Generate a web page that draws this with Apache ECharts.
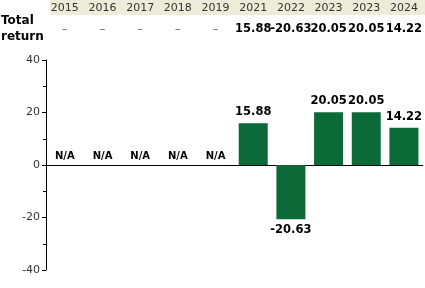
<!DOCTYPE html>
<html><head><meta charset="utf-8">
<script src="https://cdn.jsdelivr.net/npm/echarts@6/dist/echarts.min.js"></script>
<style>html,body{margin:0;padding:0;background:#fff}#c{width:425px;height:288px}</style>
</head><body><div id="c"></div>
<script>
var years = ['2015','2016','2017','2018','2019','2021','2022','2023','2023','2024'];
var totalReturn = [null,null,null,null,null,15.88,-20.63,20.05,20.05,14.22];
var yTicks = [-40,-20,0,20,40];
var rowLabel = 'Total\nreturn';
var naText = 'N/A';
var dashText = '–';

var FONT = 'DejaVu Sans';
var chart = echarts.init(document.getElementById('c'), null, {renderer:'canvas'});
var idx = years.map(function(_,i){return i;});
var barData = totalReturn.map(function(v){
  return v === null ? null : {value:v, label:{position: v < 0 ? 'bottom' : 'top'}};
});
var naData = totalReturn.map(function(v){ return v === null ? 0 : null; });
var headerVals = totalReturn.map(function(v){ return v === null ? dashText : v.toFixed(2); });

chart.setOption({
  animation:false,
  textStyle:{fontFamily:FONT},
  graphic:[
    {type:'rect', shape:{x:50,y:0,width:375,height:15}, style:{fill:'#edecd8'}, z:-1},
    {type:'text', left:1, top:13, style:{text:rowLabel, font:'bold 12px "DejaVu Sans"', fill:'#000', lineHeight:16}}
  ],
  grid:{left:46,right:0,top:60,bottom:18,containLabel:false},
  xAxis:[
    {type:'category', data:idx, position:'bottom',
      axisLine:{onZero:true, lineStyle:{color:'#000',width:1}}, axisTick:{show:false}, axisLabel:{show:false}},
    {type:'category', data:years, position:'top', offset:46, gridIndex:0,
      axisLine:{show:false}, axisTick:{show:false},
      axisLabel:{margin:0, color:'#333', fontSize:11, fontFamily:FONT, interval:0}},
    {type:'category', data:headerVals, position:'top', offset:25, gridIndex:0,
      axisLine:{show:false}, axisTick:{show:false},
      axisLabel:{margin:0, fontSize:11, fontFamily:FONT, interval:0,
        formatter:function(v){ return v===dashText ? '{d|'+v+'}' : '{b|'+v+'}'; },
        rich:{b:{fontWeight:'bold',fontSize:11.5,color:'#000',fontFamily:FONT}, d:{color:'#555',fontSize:11,fontFamily:FONT}}}}
  ],
  yAxis:{type:'value', min:-40, max:40, interval:20,
    axisLine:{show:true, lineStyle:{color:'#000'}},
    axisTick:{show:true, length:4, lineStyle:{color:'#000'}},
    minorTick:{show:true, splitNumber:2, length:3, lineStyle:{color:'#000'}},
    splitLine:{show:false},
    axisLabel:{color:'#333', fontSize:11, fontFamily:FONT, margin:6,
      formatter:function(v){ return yTicks.indexOf(v)>=0 ? String(v) : ''; }}},
  series:[
    {type:'bar', xAxisIndex:0, data:barData, barWidth:29, barGap:'-100%',
      itemStyle:{color:'#0b6a37'},
      label:{show:true, color:'#000', fontWeight:'bold', fontSize:11.5, fontFamily:FONT, distance:5,
        formatter:function(p){return p.value.toFixed(2);}}},
    {type:'bar', xAxisIndex:0, data:naData, barWidth:29,
      itemStyle:{color:'transparent'},
      label:{show:true, position:'top', distance:4, color:'#000', fontWeight:'bold', fontSize:10, fontFamily:FONT,
        formatter:function(){return naText;}}}
  ]
});
</script></body></html>
